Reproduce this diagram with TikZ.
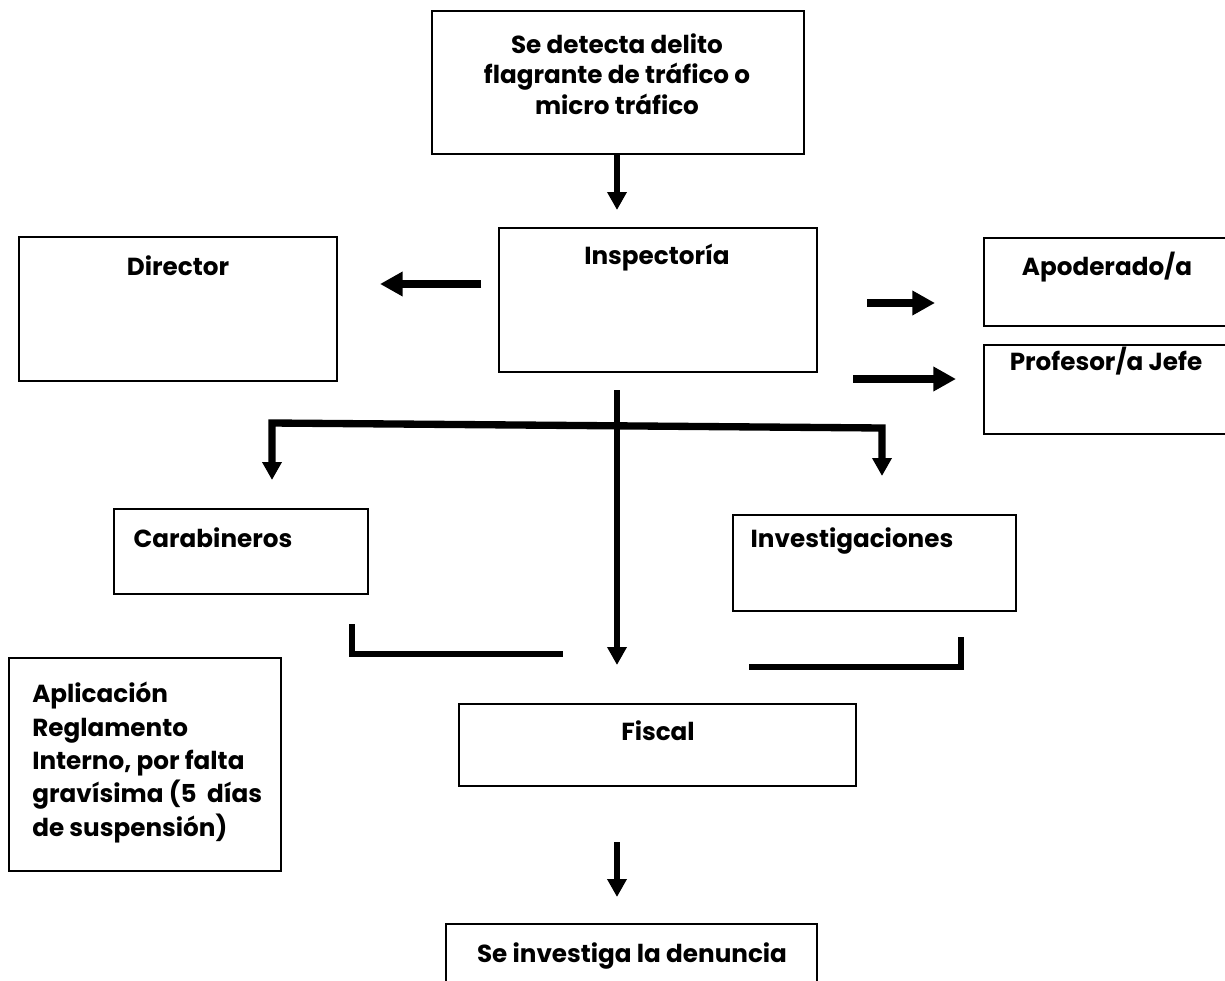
\documentclass[tikz,border=0pt]{standalone}
\usepackage{fontspec}
\setmainfont{Poppins}
\usetikzlibrary{arrows.meta}

\tikzset{
  caja/.style={draw, line width=1.5pt, anchor=north west, inner sep=0pt},
  rotulo/.style={font=\fontsize{18.5}{23}\selectfont\bfseries, inner sep=0pt, align=center},
  flecha/.style={line width=4.5pt, -{Triangle[length=13.5pt,width=14pt]}},
  flechagruesa/.style={line width=6pt, -{Triangle[length=17pt,width=17.5pt]}},
  ramal/.style={line width=5.5pt, {Triangle[length=13.5pt,width=14pt]}-{Triangle[length=13.5pt,width=14pt]}},
  corchete/.style={line width=4pt}
}

\begin{document}
\begin{tikzpicture}[x=0.75pt,y=0.75pt,yscale=-1,xscale=1]
\useasboundingbox (0,0) rectangle (1225,981);

%Boxes
\node[caja, minimum width=279pt, minimum height=107.25pt] (detecta) at (431,10) {};
\node[caja, minimum width=238.5pt, minimum height=108pt] (insp) at (498,227) {};
\node[caja, minimum width=238.5pt, minimum height=108pt] (director) at (18,236) {};
\node[caja, minimum width=187.5pt, minimum height=66pt] (apoderado) at (983,237) {};
\node[caja, minimum width=187.5pt, minimum height=66.75pt] (profesor) at (983,344) {};
\node[caja, minimum width=190.5pt, minimum height=63.75pt] (carab) at (113,508) {};
\node[caja, minimum width=212.25pt, minimum height=72pt] (invest) at (732,514) {};
\node[caja, minimum width=297.75pt, minimum height=61.5pt] (fiscal) at (458,703) {};
\node[caja, minimum width=204pt, minimum height=159.75pt] (aplic) at (8,657) {};
\node[caja, minimum width=278.25pt, minimum height=60pt] (denuncia) at (445,923) {};

% Text Node
\node[rotulo, anchor=north] (detecta-t) at (617,33) {Se detecta delito\\flagrante de tráfico o\\micro tráfico};
\node[rotulo, anchor=base] (insp-t) at (657,264) {Inspectoría};
\node[rotulo, anchor=base] (director-t) at (178,275) {Director};
\node[rotulo, anchor=base] (apoderado-t) at (1107,275) {Apoderado/a};
\node[rotulo, anchor=base] (profesor-t) at (1106,370) {Profesor/a Jefe};
\node[rotulo, anchor=base] (carab-t) at (213,547) {Carabineros};
\node[rotulo, anchor=base] (invest-t) at (852,547) {Investigaciones};
\node[rotulo, anchor=base] (fiscal-t) at (658,740) {Fiscal};
\node[rotulo, font=\fontsize{18.5}{25}\selectfont\bfseries, align=left, anchor=north west] (aplic-t) at (32,682) {Aplicación\\Reglamento\\Interno, por falta\\gravísima (5~ días\\de suspensión)};
\node[rotulo, anchor=base] (denuncia-t) at (632,962) {Se investiga la denuncia};

%Arrow ends
\coordinate (d1) at (617,155);
\coordinate (d2) at (617,210);
\coordinate (i1) at (481,284);
\coordinate (i2) at (380,284);
\coordinate (a1) at (867,303);
\coordinate (a2) at (935,303);
\coordinate (p1) at (853,379);
\coordinate (p2) at (956,379);
\coordinate (v1) at (617,390);
\coordinate (v2) at (617,665);
\coordinate (r1) at (272,480);
\coordinate (r2) at (272,423);
\coordinate (r3) at (882,428);
\coordinate (r4) at (882,476);
\coordinate (c1) at (352,624);
\coordinate (c2) at (352,654);
\coordinate (c3) at (563,654);
\coordinate (e1) at (749,667);
\coordinate (e2) at (961,667);
\coordinate (e3) at (961,637);
\coordinate (f1) at (617,842);
\coordinate (f2) at (617,897);

%Arrows
\draw[flecha] (d1) -- (d2);
\draw[flechagruesa] (i1) -- (i2);
\draw[flechagruesa] (a1) -- (a2);
\draw[flechagruesa] (p1) -- (p2);
\draw[flecha] (v1) -- (v2);
\draw[ramal] (r1) -- (r2) -- (r3) -- (r4);
\draw[corchete] (c1) -- (c2) -- (c3);
\draw[corchete] (e1) -- (e2) -- (e3);
\draw[flecha] (f1) -- (f2);

\end{tikzpicture}
\end{document}
